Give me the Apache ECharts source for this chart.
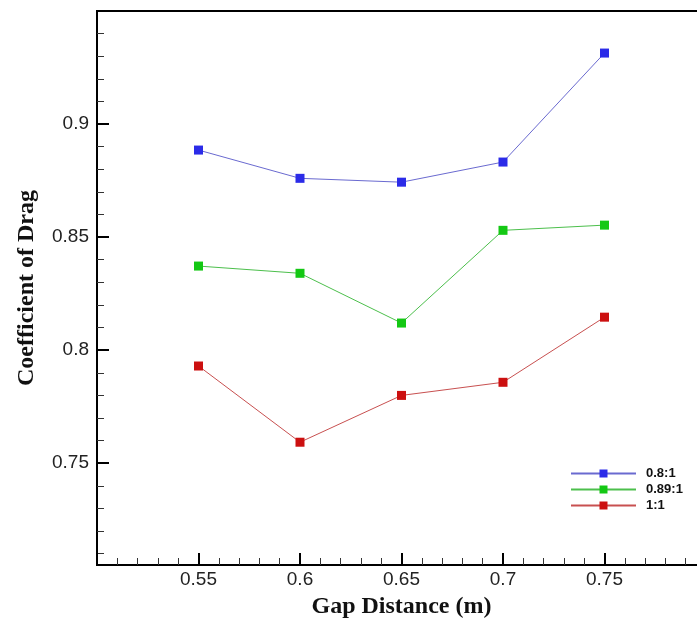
<!DOCTYPE html>
<html lang="en" style="height: 100%">

<head>
  <meta charset="utf-8" />
</head>

<body style="height: 100%; margin: 0; background: #fff">
  <div id="container" style="width: 697px; height: 634px"></div>

  <script type="text/javascript" src="https://cdn.jsdelivr.net/npm/echarts@6.0.0/dist/echarts.min.js"></script>

  <script type="text/javascript">
    // gap distance (m)
    var gaps = [0.55, 0.6, 0.65, 0.7, 0.75];
    // drag coefficient per ratio
    var cd08 = [0.8885, 0.876, 0.8743, 0.8832, 0.9314];
    var cd089 = [0.8372, 0.834, 0.812, 0.853, 0.8553];
    var cd1 = [0.793, 0.7593, 0.780, 0.7858, 0.8146];
    var seriesNames = ["0.8:1", "0.89:1", "1:1"];
    var yTickLabels = [0.75, 0.8, 0.85, 0.9];
    var yMinorTicks = [0.71, 0.72, 0.73, 0.74, 0.76, 0.77, 0.78, 0.79, 0.81, 0.82, 0.83, 0.84,
      0.86, 0.87, 0.88, 0.89, 0.91, 0.92, 0.93, 0.94];

    function pairs(ys) {
      return gaps.map(function (g, i) { return [g, ys[i]]; });
    }

    var dom = document.getElementById("container");
    var myChart = echarts.init(dom, null, { renderer: "canvas" });

    var tickFont = { fontFamily: "Liberation Sans", fontSize: 19, color: "#222" };
    var nameFont = { fontFamily: "Liberation Serif", fontWeight: "bold", fontSize: 24, color: "#111" };

    function lineSeries(name, ys, markColor, lineColor) {
      return {
        name: name,
        type: "line",
        data: pairs(ys),
        symbol: "rect",
        symbolSize: 9,
        itemStyle: { color: markColor },
        lineStyle: { color: lineColor, width: 1 },
        emphasis: { disabled: true },
        z: 3,
      };
    }

    var option = {
      backgroundColor: "#fff",
      animation: false,
      grid: {
        left: 97, top: 11, right: -9, bottom: 69,
        outerBoundsMode: "none",
        show: true, borderColor: "#000", borderWidth: 2,
      },
      legend: {
        orient: "vertical",
        left: 565,
        top: 462,
        itemWidth: 65,
        itemHeight: 10,
        itemGap: 3,
        data: seriesNames,
        textStyle: {
          fontFamily: "Liberation Sans", fontWeight: "bold", fontSize: 13, color: "#111",
          padding: [0, 0, 0, 5],
        },
      },
      xAxis: {
        type: "value",
        min: 0.5,
        max: 0.8,
        interval: 0.05,
        name: "Gap Distance (m)",
        nameLocation: "middle",
        nameGap: 30,
        nameTextStyle: nameFont,
        axisLine: { onZero: false, lineStyle: { color: "#000", width: 2 } },
        axisTick: { inside: true, length: 12, lineStyle: { color: "#000", width: 2 } },
        minorTick: { show: true, splitNumber: 5, length: 7, lineStyle: { color: "#333", width: 1 } },
        axisLabel: Object.assign({
          margin: 5,
          formatter: function (v) {
            return gaps.indexOf(Math.round(v * 100) / 100) >= 0 ? String(Math.round(v * 100) / 100) : "";
          },
        }, tickFont),
        splitLine: { show: false },
      },
      yAxis: [
        {
          type: "value",
          min: 0.705,
          max: 0.95,
          name: "Coefficient of Drag",
          nameLocation: "middle",
          nameGap: 58,
          nameTextStyle: nameFont,
          axisLine: { onZero: false, lineStyle: { color: "#000", width: 2 } },
          axisTick: { inside: true, length: 12, customValues: yTickLabels, lineStyle: { color: "#000", width: 2 } },
          axisLabel: Object.assign({ margin: 8, customValues: yTickLabels }, tickFont),
          splitLine: { show: false },
        },
        {
          type: "value",
          min: 0.705,
          max: 0.95,
          position: "left",
          axisLine: { show: false },
          axisTick: { inside: true, length: 7, customValues: yMinorTicks, lineStyle: { color: "#333", width: 1 } },
          axisLabel: { show: false },
          splitLine: { show: false },
        },
      ],
      series: [
        lineSeries(seriesNames[0], cd08, "#2b2be8", "#6a6ad0"),
        lineSeries(seriesNames[1], cd089, "#14c814", "#4cbf4c"),
        lineSeries(seriesNames[2], cd1, "#cc1010", "#c85050"),
      ],
    };

    myChart.setOption(option);
    window.addEventListener("resize", myChart.resize);
  </script>
</body>

</html>
